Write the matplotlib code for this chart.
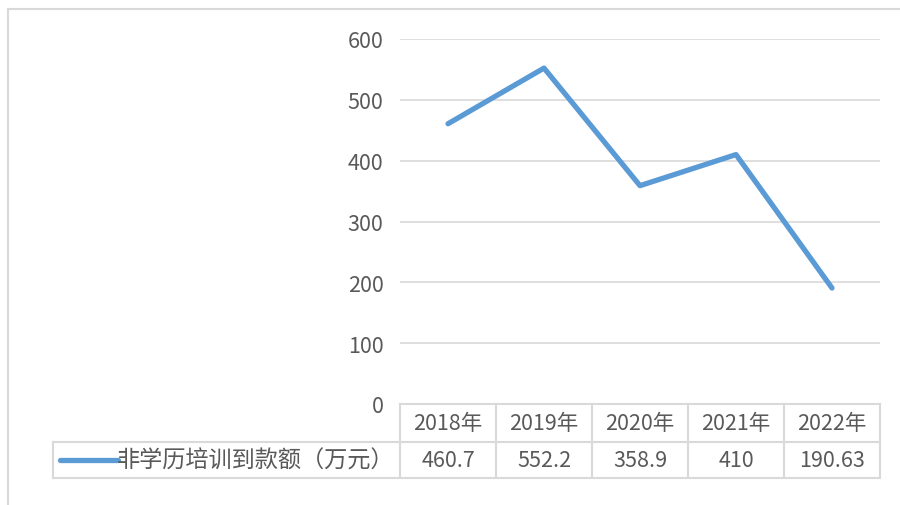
import matplotlib.pyplot as plt
import matplotlib.transforms as mtransforms
from matplotlib.lines import Line2D
from matplotlib.patches import Rectangle

plt.rcParams['font.family'] = ['Noto Sans CJK SC', 'DejaVu Sans']

years = ["2018年", "2019年", "2020年", "2021年", "2022年"]
values = [460.7, 552.2, 358.9, 410, 190.63]
value_labels = ["460.7", "552.2", "358.9", "410", "190.63"]
series_name = "非学历培训到款额（万元）"
yticks = [0, 100, 200, 300, 400, 500, 600]

line_color = "#5B9BD5"
grid_color = "#D9D9D9"
text_color = "#595959"
fs = 15.5

fig = plt.figure(figsize=(9, 5.06), dpi=100)
# outer chart border (right/bottom cut off in the reference)
fig.add_artist(Rectangle((8 / 900, -0.1), 1.0, (506 - 10) / 506 + 0.1,
                         transform=fig.transFigure, fill=False,
                         edgecolor=grid_color, linewidth=1.5))

ax = fig.add_axes([400 / 900, (506 - 405) / 506, 480 / 900, 365 / 506])
x = list(range(len(years)))
ax.plot(x, values, color=line_color, linewidth=3.8, solid_capstyle='round',
        solid_joinstyle='round')
ax.set_xlim(-0.5, len(years) - 0.5)
ax.set_ylim(0, 600)
ax.set_yticks(yticks)
ax.set_yticklabels([str(v) for v in yticks])
ax.tick_params(axis='y', length=0, pad=12, labelsize=fs, labelcolor=text_color)
ax.set_xticks([])
ax.grid(axis='y', color=grid_color, linewidth=1.2)
ax.set_axisbelow(True)
for s in ax.spines.values():
    s.set_visible(False)

# data table under the plot
px = 1 / 365.0
row1 = -38 * px
row2 = -74 * px
leg_left = (53 - 400) / 480
tr = mtransforms.blended_transform_factory(ax.transData, ax.transAxes)
lw = 1.5

def hline(x0, x1, y, trans):
    ax.add_line(Line2D([x0, x1], [y, y], transform=trans, color=grid_color,
                       linewidth=lw, clip_on=False))

def vline(xv, y0, y1, trans):
    ax.add_line(Line2D([xv, xv], [y0, y1], transform=trans, color=grid_color,
                       linewidth=lw, clip_on=False))

hline(-0.5, len(years) - 0.5, 0, tr)
hline(leg_left, 1, row1, ax.transAxes)
hline(leg_left, 1, row2, ax.transAxes)
vline(leg_left, row1, row2, ax.transAxes)
for i in range(len(years) + 1):
    vline(i - 0.5, 0, row2, tr)

for i, (yr, lab) in enumerate(zip(years, value_labels)):
    ax.text(i, row1 / 2, yr, transform=tr, ha='center', va='center',
            fontsize=fs, color=text_color)
    ax.text(i, (row1 + row2) / 2, lab, transform=tr, ha='center', va='center',
            fontsize=fs, color=text_color)

# legend key + series name
ymid = (row1 + row2) / 2
ax.add_line(Line2D([(60 - 400) / 480, (118 - 400) / 480], [ymid, ymid],
                   transform=ax.transAxes, color=line_color, linewidth=3.8,
                   solid_capstyle='round', clip_on=False))
ax.text((394 - 400) / 480, ymid, series_name, transform=ax.transAxes,
        ha='right', va='center', fontsize=16.7, color=text_color)

fig.savefig("out.png", dpi=100)
